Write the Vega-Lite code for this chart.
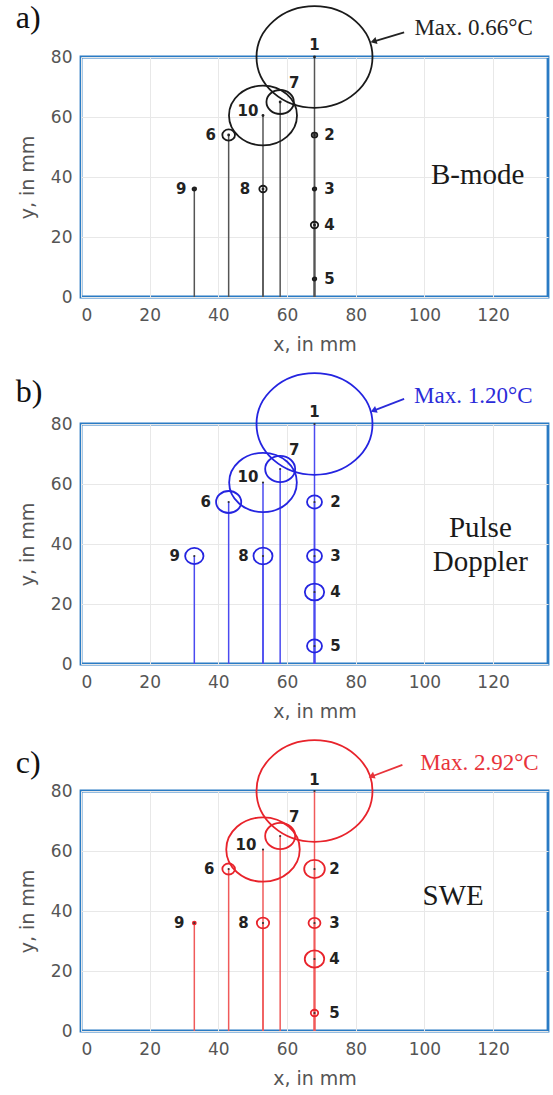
{
  "$schema": "https://vega.github.io/schema/vega-lite/v6.json",
  "background": "white",
  "padding": {"left": 14, "top": 0, "right": 5, "bottom": 5},
  "spacing": 127,
  "bounds": "flush",
  "resolve": {"scale": {"size": "independent"}},
  "datasets": {
    "a": [
      {"id": 1, "x": 68, "y": 80, "temp": 0.66},
      {"id": 2, "x": 68, "y": 54, "temp": 0.032},
      {"id": 3, "x": 68, "y": 36, "temp": 0.02},
      {"id": 4, "x": 68, "y": 24, "temp": 0.042},
      {"id": 5, "x": 68, "y": 6, "temp": 0.02},
      {"id": 6, "x": 43, "y": 54, "temp": 0.072},
      {"id": 7, "x": 58, "y": 65, "temp": 0.156},
      {"id": 8, "x": 53, "y": 36, "temp": 0.042},
      {"id": 9, "x": 33, "y": 36, "temp": 0.02},
      {"id": 10, "x": 53, "y": 60.5, "temp": 0.387}
    ],
    "b": [
      {"id": 1, "x": 68, "y": 80, "temp": 1.2},
      {"id": 2, "x": 68, "y": 54, "temp": 0.155},
      {"id": 3, "x": 68, "y": 36, "temp": 0.155},
      {"id": 4, "x": 68, "y": 24, "temp": 0.2},
      {"id": 5, "x": 68, "y": 6, "temp": 0.155},
      {"id": 6, "x": 43, "y": 54, "temp": 0.26},
      {"id": 7, "x": 58, "y": 65, "temp": 0.31},
      {"id": 8, "x": 53, "y": 36, "temp": 0.197},
      {"id": 9, "x": 33, "y": 36, "temp": 0.19},
      {"id": 10, "x": 53, "y": 60.5, "temp": 0.7}
    ],
    "c": [
      {"id": 1, "x": 68, "y": 80, "temp": 2.92},
      {"id": 2, "x": 68, "y": 54, "temp": 0.52},
      {"id": 3, "x": 68, "y": 36, "temp": 0.3},
      {"id": 4, "x": 68, "y": 24, "temp": 0.49},
      {"id": 5, "x": 68, "y": 6, "temp": 0.186},
      {"id": 6, "x": 43, "y": 54, "temp": 0.317},
      {"id": 7, "x": 58, "y": 65, "temp": 0.755},
      {"id": 8, "x": 53, "y": 36, "temp": 0.31},
      {"id": 9, "x": 33, "y": 36, "temp": 0.075},
      {"id": 10, "x": 53, "y": 60.5, "temp": 1.85}
    ]
  },
  "config": {
    "view": {"stroke": "#2a7bc4", "strokeWidth": 2.8},
    "axis": {
      "domain": false, "ticks": false, "gridColor": "#e8e8e8", "gridWidth": 1,
      "labelFont": "DejaVu Sans", "labelFontSize": 17, "labelColor": "#555",
      "titleFont": "DejaVu Sans", "titleFontSize": 19, "titleFontWeight": "normal", "titleColor": "#555"
    },
    "text": {"font": "DejaVu Sans", "fontWeight": "bold", "fontSize": 15, "color": "#222", "baseline": "middle", "align": "center"}
  },
  "vconcat": [
    {
      "width": 467, "height": 240,
      "data": {"name": "a"},
      "encoding": {
        "x": {"field": "x", "type": "quantitative", "scale": {"domain": [0, 136], "nice": false, "zero": false}, "axis": {"title": "x, in mm", "values": [0, 20, 40, 60, 80, 100, 120], "labelPadding": 10, "titlePadding": 12}},
        "y": {"field": "y", "type": "quantitative", "scale": {"domain": [0, 80], "nice": false}, "axis": {"title": "y, in mm", "values": [0, 20, 40, 60, 80], "labelPadding": 9, "titlePadding": 13}}
      },
      "layer": [
        {"mark": {"type": "rule", "color": "#555", "strokeWidth": 1.5}, "encoding": {"y2": {"datum": 0}}},
        {"mark": {"type": "point", "shape": "M-1,0A1,0.876,0,1,0,1,0A1,0.876,0,1,0,-1,0Z", "filled": false, "strokeWidth": 1.8, "color": "#1a1a1a", "opacity": 1},
         "encoding": {"size": {"field": "temp", "type": "quantitative", "scale": {"type": "pow", "exponent": 2, "domain": [0, 0.66], "range": [0, 13456]}, "legend": null}}},
        {"mark": {"type": "point", "shape": "circle", "filled": true, "size": 8, "color": "#222", "opacity": 1}},
        {"transform": [{"filter": {"field": "id", "oneOf": [1]}}], "mark": {"type": "text", "dy": -12}, "encoding": {"text": {"field": "id", "type": "nominal"}}},
        {"transform": [{"filter": {"field": "id", "oneOf": [2, 3, 4, 5]}}], "mark": {"type": "text", "dx": 15}, "encoding": {"text": {"field": "id", "type": "nominal"}}},
        {"transform": [{"filter": {"field": "id", "oneOf": [6, 8]}}], "mark": {"type": "text", "dx": -18}, "encoding": {"text": {"field": "id", "type": "nominal"}}},
        {"transform": [{"filter": {"field": "id", "oneOf": [9]}}], "mark": {"type": "text", "dx": -13}, "encoding": {"text": {"field": "id", "type": "nominal"}}},
        {"transform": [{"filter": {"field": "id", "oneOf": [7]}}], "mark": {"type": "text", "dx": 14, "dy": -19}, "encoding": {"text": {"field": "id", "type": "nominal"}}},
        {"transform": [{"filter": {"field": "id", "oneOf": [10]}}], "mark": {"type": "text", "dx": -15, "dy": -5}, "encoding": {"text": {"field": "id", "type": "nominal"}}},
        {"transform": [{"filter": "datum.id == 1"}], "mark": {"type": "text", "text": "B-mode", "font": "Liberation Serif", "fontWeight": "normal", "fontSize": 29, "color": "#1a1a1a"}, "encoding": {"x": {"datum": 115.5}, "y": {"datum": 40.7}}},
        {"transform": [{"filter": "datum.id == 1"}], "mark": {"type": "text", "text": "Max. 0.66°C", "font": "Liberation Serif", "fontWeight": "normal", "fontSize": 23, "color": "#222", "align": "left"}, "encoding": {"x": {"datum": 97.1}, "y": {"datum": 89.7}}},
        {"transform": [{"filter": "datum.id == 1"}], "mark": {"type": "text", "text": "a)", "font": "Liberation Serif", "fontWeight": "normal", "fontSize": 32, "color": "#111", "align": "left", "baseline": "alphabetic"}, "encoding": {"x": {"datum": -19}, "y": {"datum": 89.7}}},
        {"transform": [{"filter": "datum.id == 1"}], "mark": {"type": "rule", "color": "#222", "strokeWidth": 1.8}, "encoding": {"x": {"datum": 94.1}, "x2": {"datum": 85.6}, "y": {"datum": 88.2}, "y2": {"datum": 85.3}}},
        {"transform": [{"filter": "datum.id == 1"}], "mark": {"type": "point", "shape": "triangle-left", "filled": true, "size": 50, "angle": 343, "color": "#222", "opacity": 1}, "encoding": {"x": {"datum": 85.2}, "y": {"datum": 85.2}}}
      ]
    },
    {
      "width": 467, "height": 240,
      "data": {"name": "b"},
      "encoding": {
        "x": {"field": "x", "type": "quantitative", "scale": {"domain": [0, 136], "nice": false, "zero": false}, "axis": {"title": "x, in mm", "values": [0, 20, 40, 60, 80, 100, 120], "labelPadding": 10, "titlePadding": 12}},
        "y": {"field": "y", "type": "quantitative", "scale": {"domain": [0, 80], "nice": false}, "axis": {"title": "y, in mm", "values": [0, 20, 40, 60, 80], "labelPadding": 9, "titlePadding": 13}}
      },
      "layer": [
        {"mark": {"type": "rule", "color": "#4a4af0", "strokeWidth": 1.5}, "encoding": {"y2": {"datum": 0}}},
        {"mark": {"type": "point", "shape": "M-1,0A1,0.876,0,1,0,1,0A1,0.876,0,1,0,-1,0Z", "filled": false, "strokeWidth": 1.8, "color": "#2424e0", "opacity": 1},
         "encoding": {"size": {"field": "temp", "type": "quantitative", "scale": {"type": "pow", "exponent": 2, "domain": [0, 1.2], "range": [0, 13456]}, "legend": null}}},
        {"mark": {"type": "point", "shape": "circle", "filled": true, "size": 5, "color": "#333", "opacity": 1}},
        {"transform": [{"filter": {"field": "id", "oneOf": [1]}}], "mark": {"type": "text", "dy": -12}, "encoding": {"text": {"field": "id", "type": "nominal"}}},
        {"transform": [{"filter": {"field": "id", "oneOf": [2, 3, 4, 5]}}], "mark": {"type": "text", "dx": 21}, "encoding": {"text": {"field": "id", "type": "nominal"}}},
        {"transform": [{"filter": {"field": "id", "oneOf": [6]}}], "mark": {"type": "text", "dx": -23}, "encoding": {"text": {"field": "id", "type": "nominal"}}},
        {"transform": [{"filter": {"field": "id", "oneOf": [8, 9]}}], "mark": {"type": "text", "dx": -19.5}, "encoding": {"text": {"field": "id", "type": "nominal"}}},
        {"transform": [{"filter": {"field": "id", "oneOf": [7]}}], "mark": {"type": "text", "dx": 14, "dy": -19}, "encoding": {"text": {"field": "id", "type": "nominal"}}},
        {"transform": [{"filter": {"field": "id", "oneOf": [10]}}], "mark": {"type": "text", "dx": -15, "dy": -6}, "encoding": {"text": {"field": "id", "type": "nominal"}}},
        {"transform": [{"filter": "datum.id == 1"}], "mark": {"type": "text", "text": ["Pulse", "Doppler"], "lineHeight": 34, "font": "Liberation Serif", "fontWeight": "normal", "fontSize": 29, "color": "#1a1a1a"}, "encoding": {"x": {"datum": 116.3}, "y": {"datum": 45.4}}},
        {"transform": [{"filter": "datum.id == 1"}], "mark": {"type": "text", "text": "Max. 1.20°C", "font": "Liberation Serif", "fontWeight": "normal", "fontSize": 23, "color": "#2b2bd9", "align": "left"}, "encoding": {"x": {"datum": 97}, "y": {"datum": 89.4}}},
        {"transform": [{"filter": "datum.id == 1"}], "mark": {"type": "text", "text": "b)", "font": "Liberation Serif", "fontWeight": "normal", "fontSize": 32, "color": "#111", "align": "left", "baseline": "alphabetic"}, "encoding": {"x": {"datum": -19}, "y": {"datum": 87.2}}},
        {"transform": [{"filter": "datum.id == 1"}], "mark": {"type": "rule", "color": "#2b2bd9", "strokeWidth": 1.8}, "encoding": {"x": {"datum": 94.1}, "x2": {"datum": 85.6}, "y": {"datum": 88.4}, "y2": {"datum": 84.6}}},
        {"transform": [{"filter": "datum.id == 1"}], "mark": {"type": "point", "shape": "triangle-left", "filled": true, "size": 50, "angle": 338, "color": "#2b2bd9", "opacity": 1}, "encoding": {"x": {"datum": 85.2}, "y": {"datum": 84.5}}}
      ]
    },
    {
      "width": 467, "height": 240,
      "data": {"name": "c"},
      "encoding": {
        "x": {"field": "x", "type": "quantitative", "scale": {"domain": [0, 136], "nice": false, "zero": false}, "axis": {"title": "x, in mm", "values": [0, 20, 40, 60, 80, 100, 120], "labelPadding": 10, "titlePadding": 12}},
        "y": {"field": "y", "type": "quantitative", "scale": {"domain": [0, 80], "nice": false}, "axis": {"title": "y, in mm", "values": [0, 20, 40, 60, 80], "labelPadding": 9, "titlePadding": 13}}
      },
      "layer": [
        {"mark": {"type": "rule", "color": "#f05a5a", "strokeWidth": 1.5}, "encoding": {"y2": {"datum": 0}}},
        {"mark": {"type": "point", "shape": "M-1,0A1,0.876,0,1,0,1,0A1,0.876,0,1,0,-1,0Z", "filled": false, "strokeWidth": 1.8, "color": "#e8232b", "opacity": 1},
         "encoding": {"size": {"field": "temp", "type": "quantitative", "scale": {"type": "pow", "exponent": 2, "domain": [0, 2.92], "range": [0, 13456]}, "legend": null}}},
        {"mark": {"type": "point", "shape": "circle", "filled": true, "size": 5, "color": "#333", "opacity": 1}},
        {"transform": [{"filter": {"field": "id", "oneOf": [1]}}], "mark": {"type": "text", "dy": -11}, "encoding": {"text": {"field": "id", "type": "nominal"}}},
        {"transform": [{"filter": {"field": "id", "oneOf": [2, 3, 4, 5]}}], "mark": {"type": "text", "dx": 20}, "encoding": {"text": {"field": "id", "type": "nominal"}}},
        {"transform": [{"filter": {"field": "id", "oneOf": [6, 8]}}], "mark": {"type": "text", "dx": -19.5}, "encoding": {"text": {"field": "id", "type": "nominal"}}},
        {"transform": [{"filter": {"field": "id", "oneOf": [9]}}], "mark": {"type": "text", "dx": -15}, "encoding": {"text": {"field": "id", "type": "nominal"}}},
        {"transform": [{"filter": {"field": "id", "oneOf": [7]}}], "mark": {"type": "text", "dx": 14, "dy": -19}, "encoding": {"text": {"field": "id", "type": "nominal"}}},
        {"transform": [{"filter": {"field": "id", "oneOf": [10]}}], "mark": {"type": "text", "dx": -17, "dy": -5}, "encoding": {"text": {"field": "id", "type": "nominal"}}},
        {"transform": [{"filter": "datum.id == 1"}], "mark": {"type": "text", "text": "SWE", "font": "Liberation Serif", "fontWeight": "normal", "fontSize": 29, "color": "#1a1a1a"}, "encoding": {"x": {"datum": 108.4}, "y": {"datum": 45}}},
        {"transform": [{"filter": "datum.id == 1"}], "mark": {"type": "text", "text": "Max. 2.92°C", "font": "Liberation Serif", "fontWeight": "normal", "fontSize": 23, "color": "#e8333a", "align": "left"}, "encoding": {"x": {"datum": 98.8}, "y": {"datum": 89.2}}},
        {"transform": [{"filter": "datum.id == 1"}], "mark": {"type": "text", "text": "c)", "font": "Liberation Serif", "fontWeight": "normal", "fontSize": 32, "color": "#111", "align": "left", "baseline": "alphabetic"}, "encoding": {"x": {"datum": -19}, "y": {"datum": 85.9}}},
        {"transform": [{"filter": "datum.id == 1"}], "mark": {"type": "rule", "color": "#e8333a", "strokeWidth": 1.8}, "encoding": {"x": {"datum": 93.6}, "x2": {"datum": 85}, "y": {"datum": 88.7}, "y2": {"datum": 85}}},
        {"transform": [{"filter": "datum.id == 1"}], "mark": {"type": "point", "shape": "triangle-left", "filled": true, "size": 50, "angle": 338, "color": "#e8333a", "opacity": 1}, "encoding": {"x": {"datum": 84.6}, "y": {"datum": 84.9}}}
      ]
    }
  ]
}
